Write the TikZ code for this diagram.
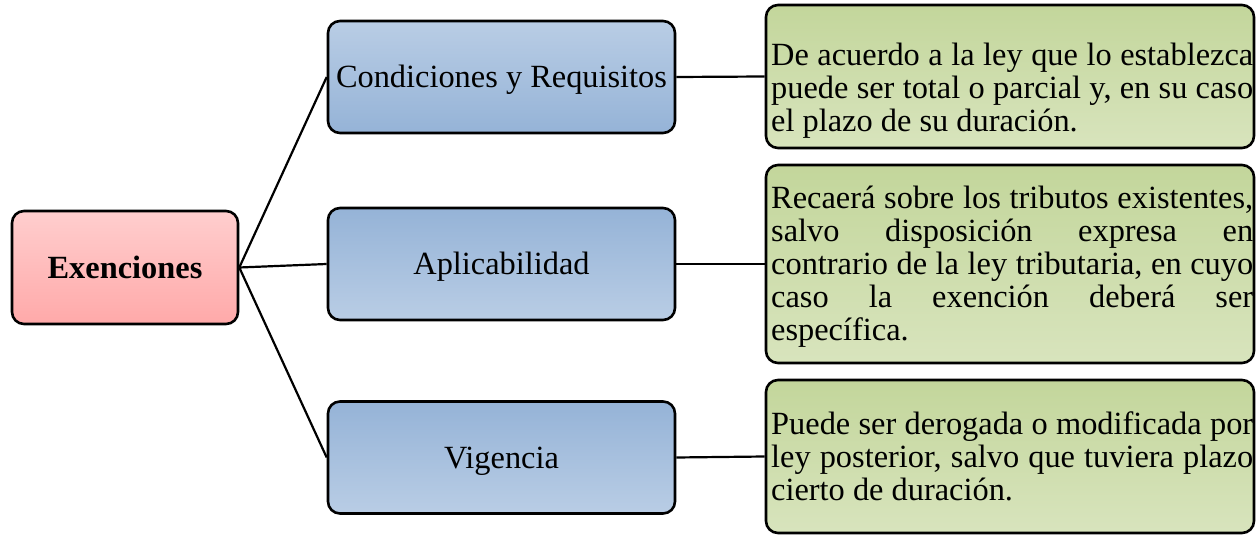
\documentclass[tikz,border=0pt]{standalone}
\usepackage{fontspec}
\setmainfont{Liberation Serif}
\definecolor{redtop}{HTML}{FFCECE}
\definecolor{redbot}{HTML}{FFA9A9}
\definecolor{bluelight}{HTML}{B9CDE5}
\definecolor{bluedark}{HTML}{95B3D7}
\definecolor{greentop}{HTML}{C3D69B}
\definecolor{greenbot}{HTML}{D8E4BD}
\begin{document}
\begin{tikzpicture}[x=1bp,y=-1bp,
  box/.style={draw=black, line width=2.6bp, rounded corners=12bp, inner sep=0pt,
    font=\fontsize{32.5}{33.1}\selectfont, text height=22bp, text depth=0bp},
  rootbox/.style={box, minimum width=226bp, minimum height=113bp,
    top color=redtop, bottom color=redbot, font=\fontsize{32.5}{33.1}\selectfont\bfseries},
  midup/.style={box, minimum width=347bp, minimum height=112bp,
    top color=bluelight, bottom color=bluedark},
  middown/.style={box, minimum width=347bp, minimum height=112bp,
    top color=bluedark, bottom color=bluelight},
  leafbox/.style={box, minimum width=488bp, top color=greentop, bottom color=greenbot},
  leaftext/.style={anchor=north west, inner sep=0pt, text width=482bp, align=justify,
    font=\fontsize{32.5}{33.1}\selectfont,
    execute at begin node={\hyphenpenalty=10000 \tolerance=10000 \emergencystretch=20pt}},
  link/.style={line width=2.2bp}
]
\useasboundingbox (0,0) rectangle (1256,535);
\node[rootbox] (ex) at (125,267.5) {Exenciones};
\node[midup] (cr) at (501.5,77) {Condiciones y Requisitos};
\node[middown] (ap) at (501.5,264) {Aplicabilidad};
\node[middown] (vi) at (501.5,457.5) {Vigencia};
\node[leafbox, minimum height=143bp] (g1) at (1010,76.5) {};
\node[leafbox, minimum height=198bp] (g2) at (1010,264) {};
\node[leafbox, minimum height=153bp] (g3) at (1010,456.5) {};
\node[leaftext] (t1) at (771,43) {De acuerdo a la ley que lo establezca\linebreak puede ser total o parcial y, en su caso\linebreak el plazo de su duración.};
\node[leaftext] (t2) at (771,186) {Recaerá sobre los tributos existentes,\linebreak salvo disposición expresa en\linebreak contrario de la ley tributaria, en cuyo\linebreak caso la exención deberá ser\linebreak específica.};
\node[leaftext] (t3) at (771,412) {Puede ser derogada o modificada por\linebreak ley posterior, salvo que tuviera plazo\linebreak cierto de duración.};
\draw[link] (ex.east) -- (cr.west);
\draw[link] (ex.east) -- (ap.west);
\draw[link] (ex.east) -- (vi.west);
\draw[link] (cr.east) -- (g1.west);
\draw[link] (ap.east) -- (g2.west);
\draw[link] (vi.east) -- (g3.west);
\end{tikzpicture}
\end{document}
